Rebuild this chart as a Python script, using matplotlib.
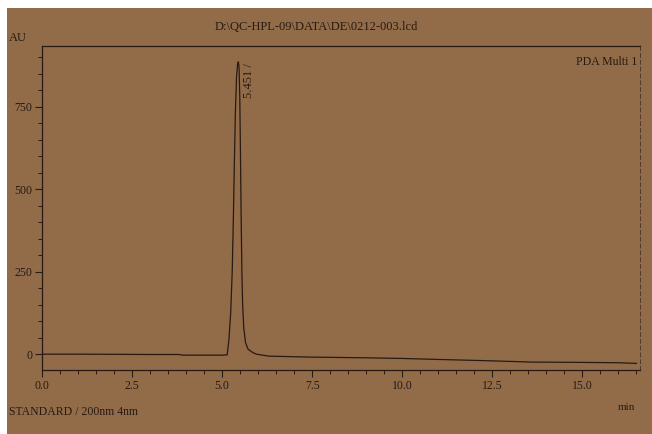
import matplotlib
matplotlib.use("Agg")
import matplotlib.pyplot as plt
from matplotlib.patches import Rectangle
from matplotlib.ticker import MultipleLocator

# ---- data ----
time_min = [0.0, 1.0, 2.0, 3.0, 3.8, 3.9, 4.5, 5.0, 5.14, 5.19, 5.24, 5.28,
            5.31, 5.34, 5.37, 5.40, 5.43, 5.451, 5.47, 5.49, 5.51, 5.53,
            5.55, 5.57, 5.60, 5.65, 5.72, 5.85, 5.95, 6.3, 7.5, 9.0, 10.0,
            11.0, 12.4, 13.6, 15.0, 16.0, 16.5]
signal_mau = [0, 0, -0.5, -1, -1, -3, -3, -3, -2, 45, 130, 250,
              400, 580, 740, 840, 880, 886, 870, 780, 600, 400,
              240, 150, 80, 35, 15, 5, 0, -6, -9, -11, -13,
              -16, -20, -24, -25, -26, -28]
peak_rt = 5.451
peak_label = "5.451 /"
y_ticks = [0, 250, 500, 750]
x_ticks = [0.0, 2.5, 5.0, 7.5, 10.0, 12.5, 15.0]
x_tick_labels = ["0.0", "2.5", "5.0", "7.5", "10.0", "12.5", "15.0"]
title_text = "D:\\QC-HPL-09\\DATA\\DE\\0212-003.lcd"
unit_text = "AU"
channel_text = "PDA Multi 1"
detector_text = "STANDARD / 200nm 4nm"

W, H = 652, 434
paper = "#926b49"
ink = "#261b13"
serif = ["Liberation Serif", "DejaVu Serif"]

fig = plt.figure(figsize=(W / 100, H / 100), dpi=100, facecolor="white")
fig.patches.append(Rectangle((7 / W, 0), 1 - 7 / W, 1 - 8 / H, transform=fig.transFigure,
                             facecolor=paper, edgecolor="none", zorder=-5))

ax = fig.add_axes([42 / W, 1 - 370 / H, (640 - 42) / W, (370 - 46) / H])
ax.set_facecolor("none")
ax.set_zorder(2)
ax.plot(time_min, signal_mau, color=ink, lw=0.9)
ax.set_xlim(0, 16.6)
ax.set_ylim(-48, 934)

ax.xaxis.set_major_locator(MultipleLocator(2.5))
ax.xaxis.set_minor_locator(MultipleLocator(0.5))
ax.yaxis.set_major_locator(MultipleLocator(250))
ax.yaxis.set_minor_locator(MultipleLocator(50))
ax.set_xticks(x_ticks)
ax.set_xticklabels(x_tick_labels)
ax.set_yticks(y_ticks)
ax.tick_params(which="major", length=5, width=0.8, color=ink, direction="out",
               labelsize=8.5, labelcolor=ink, pad=2)
ax.tick_params(which="minor", length=3, width=0.7, color=ink, direction="out")
for lab in ax.get_xticklabels() + ax.get_yticklabels():
    lab.set_family(serif)

for side in ["left", "top", "bottom"]:
    ax.spines[side].set_color(ink)
    ax.spines[side].set_linewidth(0.9)
ax.spines["right"].set_color(ink)
ax.spines["right"].set_linewidth(0.7)
ax.spines["right"].set_linestyle((0, (4, 3)))
ax.spines["right"].set_alpha(0.6)

ax.text(peak_rt + 0.3, 775, peak_label, rotation=90, ha="center", va="bottom",
        fontsize=9, color=ink, family=serif)
ax.text(0.995, 0.97, channel_text, transform=ax.transAxes, ha="right", va="top",
        fontsize=8.5, color=ink, family=serif)

fig.text(316 / W, 1 - 27 / H, title_text, ha="center", va="center",
         fontsize=9, color=ink, family=serif)
fig.text(9 / W, 1 - 38 / H, unit_text, ha="left", va="center",
         fontsize=9, color=ink, family=serif)
fig.text(9 / W, 1 - 412 / H, detector_text, ha="left", va="center",
         fontsize=8.5, color=ink, family=serif)
fig.text(626 / W, 1 - 408 / H, "min", ha="center", va="center",
         fontsize=8, color=ink, family=serif)

fig.savefig("out.png", dpi=100, facecolor="white")
